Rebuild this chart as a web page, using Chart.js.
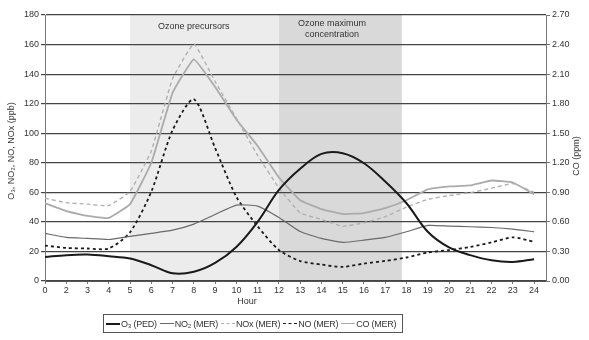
<!DOCTYPE html>
<html>
<head>
<meta charset="utf-8">
<script src="https://cdn.jsdelivr.net/npm/chart.js@4.4.1/dist/chart.umd.min.js"></script>
<style>
  html, body { margin: 0; padding: 0; background: #fff; }
  #wrap { position: relative; width: 589px; height: 340px; }
  #legend {
    position: absolute; left: 103px; top: 314px; width: 300px; height: 19px;
    box-sizing: border-box; border: 1px solid #555; display: flex; align-items: center;
    padding-left: 2px; gap: 3px; font: 9px "Liberation Sans", Arial, sans-serif; color: #333;
    letter-spacing: -0.25px;
  }
  .item { display: flex; align-items: center; white-space: nowrap; }
  .swatch { display: inline-block; width: 14px; height: 0; margin-right: 1px; }
</style>
</head>
<body>
<div id="wrap">
  <canvas id="chart" width="589" height="340"></canvas>
  <div id="legend"></div>
</div>
<script>
const hourLabels = ["0", "2", "3", "4", "5", "6", "7", "8", "9", "10", "11", "12",
  "13", "14", "15", "16", "17", "18", "19", "20", "21", "22", "23", "24"];

// ppb, left axis
const o3Ped = [16.3, 17.5, 17.9, 16.8, 15.2, 10.7, 5.2, 6.2, 12.2, 23, 40, 61.6,
  76, 86, 86.5, 79.7, 67.3, 52.6, 33.3, 22.7, 17.5, 14, 12.9, 14.7];
const no2Mer = [32.2, 29.5, 28.8, 28.1, 30.2, 32.2, 34.4, 38.5, 45, 51.4, 50.7, 43,
  33.5, 28.8, 26.1, 27.6, 29.5, 33.3, 37.6, 37.2, 36.7, 36.2, 35.1, 33.3];
const noxMer = [56, 53, 52, 51, 60.5, 88, 137, 160.5, 135, 110, 85, 63,
  46, 41.7, 37, 39.4, 43.5, 50, 55.3, 57.8, 59.8, 62.8, 66, 60];
const noMer = [24, 22.4, 22, 22, 33, 60.5, 102, 123, 90, 57, 37, 21,
  13.5, 11.1, 9.5, 11.8, 13.6, 15.9, 19.3, 20.9, 23.1, 26.1, 29.5, 26.5];
// ppm, right axis
const coMer = [0.79, 0.71, 0.66, 0.64, 0.78, 1.20, 1.91, 2.25, 1.97, 1.64, 1.37, 1.05,
  0.82, 0.73, 0.68, 0.69, 0.74, 0.82, 0.93, 0.96, 0.97, 1.02, 1.00, 0.88];

// shaded periods, in x-axis index units
const periods = [
  { from: 4, to: 11, color: "#ececec", lines: ["Ozone precursors"], labelAt: 7, labelY: 27 },
  { from: 11, to: 16.78, color: "#d9d9d9", lines: ["Ozone maximum", "concentration"], labelAt: 13.5, labelY: 24 },
];

const FONT = '"Liberation Sans", Arial, sans-serif';
const TEXT = "#333";

function points(values) {
  return values.map((v, i) => ({ x: i, y: v }));
}

const periodPlugin = {
  id: "periods",
  beforeDraw(chart) {
    const { ctx, chartArea, scales } = chart;
    ctx.save();
    periods.forEach((p) => {
      const x0 = scales.x.getPixelForValue(p.from);
      const x1 = scales.x.getPixelForValue(p.to);
      ctx.fillStyle = p.color;
      ctx.fillRect(x0, chartArea.top, x1 - x0, chartArea.bottom - chartArea.top);
    });
    ctx.fillStyle = TEXT;
    ctx.font = "9px " + FONT;
    ctx.textAlign = "center";
    ctx.textBaseline = "middle";
    periods.forEach((p) => {
      const cx = scales.x.getPixelForValue(p.labelAt);
      p.lines.forEach((line, k) => ctx.fillText(line, cx, p.labelY + k * 10.5));
    });
    ctx.restore();
  },
  afterDraw(chart) {
    const { ctx, chartArea } = chart;
    const midY = (chartArea.top + chartArea.bottom) / 2;
    ctx.save();
    ctx.fillStyle = TEXT;
    ctx.font = "9px " + FONT;
    ctx.textAlign = "center";
    ctx.textBaseline = "middle";
    ctx.fillText("Hour", 247, 302);
    ctx.translate(12, midY + 3);
    ctx.rotate(-Math.PI / 2);
    ctx.fillText("O\u2083, NO\u2082, NO, NOx (ppb)", 0, 0);
    ctx.restore();
    ctx.save();
    ctx.fillStyle = TEXT;
    ctx.font = "9px " + FONT;
    ctx.textAlign = "center";
    ctx.textBaseline = "middle";
    ctx.translate(577, midY + 8);
    ctx.rotate(-Math.PI / 2);
    ctx.fillText("CO (ppm)", 0, 0);
    ctx.restore();
  },
};

const series = [
  { label: "O\u2083 (PED)", data: o3Ped, color: "#1a1a1a", width: 2, dash: [], tension: 0.35, axis: "y" },
  { label: "NO\u2082 (MER)", data: no2Mer, color: "#6a6a6a", width: 1.2, dash: [], tension: 0.15, axis: "y" },
  { label: "NOx (MER)", data: noxMer, color: "#b0b0b0", width: 1.4, dash: [4, 3], tension: 0.1, axis: "y" },
  { label: "NO (MER)", data: noMer, color: "#1a1a1a", width: 1.8, dash: [3, 3], tension: 0.25, axis: "y" },
  { label: "CO (MER)", data: coMer, color: "#ababab", width: 1.8, dash: [], tension: 0.1, axis: "y1" },
];

new Chart(document.getElementById("chart"), {
  type: "line",
  data: {
    datasets: series.map((s) => ({
      label: s.label,
      data: points(s.data),
      borderColor: s.color,
      borderWidth: s.width,
      borderDash: s.dash,
      tension: s.tension,
      pointRadius: 0,
      fill: false,
      yAxisID: s.axis,
    })),
  },
  options: {
    responsive: false,
    animation: false,
    devicePixelRatio: 1,
    layout: { padding: { top: 15, left: 0, right: 0, bottom: 0 } },
    plugins: { legend: { display: false }, tooltip: { enabled: false } },
    scales: {
      x: {
        type: "linear",
        min: 0,
        max: 23.56,
        afterBuildTicks: (axis) => { axis.ticks = hourLabels.map((_, i) => ({ value: i })); },
        afterFit: (axis) => { axis.height = 59; },
        ticks: {
          autoSkip: false,
          maxRotation: 0,
          padding: 1,
          color: TEXT,
          font: { size: 9, family: FONT },
          callback: (v) => hourLabels[v],
        },
        grid: { drawOnChartArea: false, drawTicks: true, tickLength: 3, color: "#777" },
        border: { color: "#555", width: 1 },
      },
      y: {
        position: "left",
        min: 0,
        max: 180,
        afterFit: (axis) => { axis.width = 45; },
        ticks: { stepSize: 20, padding: 2, color: TEXT, font: { size: 9, family: FONT } },
        grid: { color: "#444", lineWidth: 1.2, tickLength: 4, drawTicks: true },
        border: { color: "#777", width: 1 },
      },
      y1: {
        position: "right",
        min: 0,
        max: 2.7,
        afterFit: (axis) => { axis.width = 43; },
        ticks: {
          stepSize: 0.3, padding: 2, color: TEXT, font: { size: 9, family: FONT },
          callback: (v) => Number(v).toFixed(2),
        },
        grid: { drawOnChartArea: false, tickLength: 4, color: "#777" },
        border: { color: "#777", width: 1 },
      },
    },
  },
  plugins: [periodPlugin],
});

const legendEl = document.getElementById("legend");
series.forEach((s) => {
  const item = document.createElement("span");
  item.className = "item";
  const sw = document.createElement("span");
  sw.className = "swatch";
  sw.style.borderTop = `${s.width}px ${s.dash.length ? "dashed" : "solid"} ${s.color}`;
  item.appendChild(sw);
  item.appendChild(document.createTextNode(s.label));
  legendEl.appendChild(item);
});
</script>
</body>
</html>
